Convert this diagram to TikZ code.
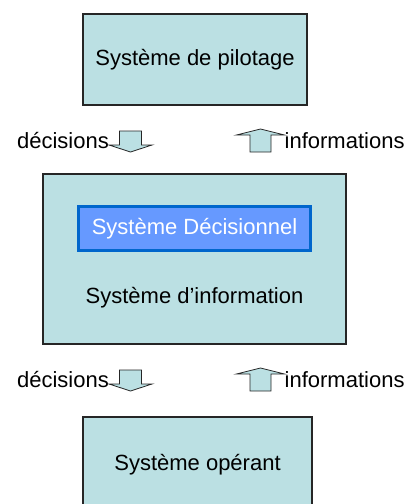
\documentclass[tikz,border=0pt]{standalone}
\usepackage{fontspec}
\setmainfont{Liberation Sans}
\usepackage{tikz}
\usetikzlibrary{positioning,calc}

\definecolor{bleuclair}{RGB}{187,224,227}
\definecolor{bleudec}{RGB}{102,153,255}
\definecolor{bleubord}{RGB}{0,102,204}

\begin{document}
\begin{tikzpicture}[x=1pt,y=-1pt,
    font=\fontsize{22}{26}\selectfont,
    systeme/.style={draw=black!85, fill=bleuclair, line width=1.2pt, inner sep=0pt},
    decisionnel/.style={draw=bleubord, fill=bleudec, line width=3pt, text=white, inner sep=0pt},
    fleche/.style={draw=black!85, fill=bleuclair, line width=0.8pt, line join=miter},
    flechebas/.pic={\path[fleche] (-11,0) -- (11,0) -- (11,14) -- (21.5,14)
        -- (0,21) -- (-21.5,14) -- (-11,14) -- cycle;},
    flechehaut/.pic={\path[fleche] (-10.5,0) -- (10.5,0) -- (10.5,-17) -- (24,-17)
        -- (0,-23) -- (-24,-17) -- (-10.5,-17) -- cycle;}]
            % Cadre
            \useasboundingbox (0,0) rectangle (406,504);

            \node[systeme, minimum width=224, minimum height=91] (pilotage) at (195,59.5) {Système de pilotage};
            \node[systeme, minimum width=303, minimum height=170] (information) at (194.5,259) {};
            \node[decisionnel, minimum width=232, minimum height=44] (sd) at (194.5,228.5) {Système Décisionnel};
            \node[anchor=base] (titreSI) at (194.5,303) {Système d’information};
            \node[systeme, minimum width=229, minimum height=96] (operant) at (197.5,465) {Système opérant};

            % flux entre les niveaux
            \foreach \dy/\n in {0/1, 239/2} {
                \coordinate (bas\n) at (130.5,131+\dy);
                \coordinate (haut\n) at (260.5,152+\dy);
                \pic at (bas\n) {flechebas};
                \pic at (haut\n) {flechehaut};
                \node[anchor=base east, inner sep=0pt] (decisions\n) at (109,148+\dy) {décisions};
                \node[anchor=base west, inner sep=0pt] (informations\n) at (284.5,148+\dy) {informations};
            }
        \end{tikzpicture}
\end{document}
